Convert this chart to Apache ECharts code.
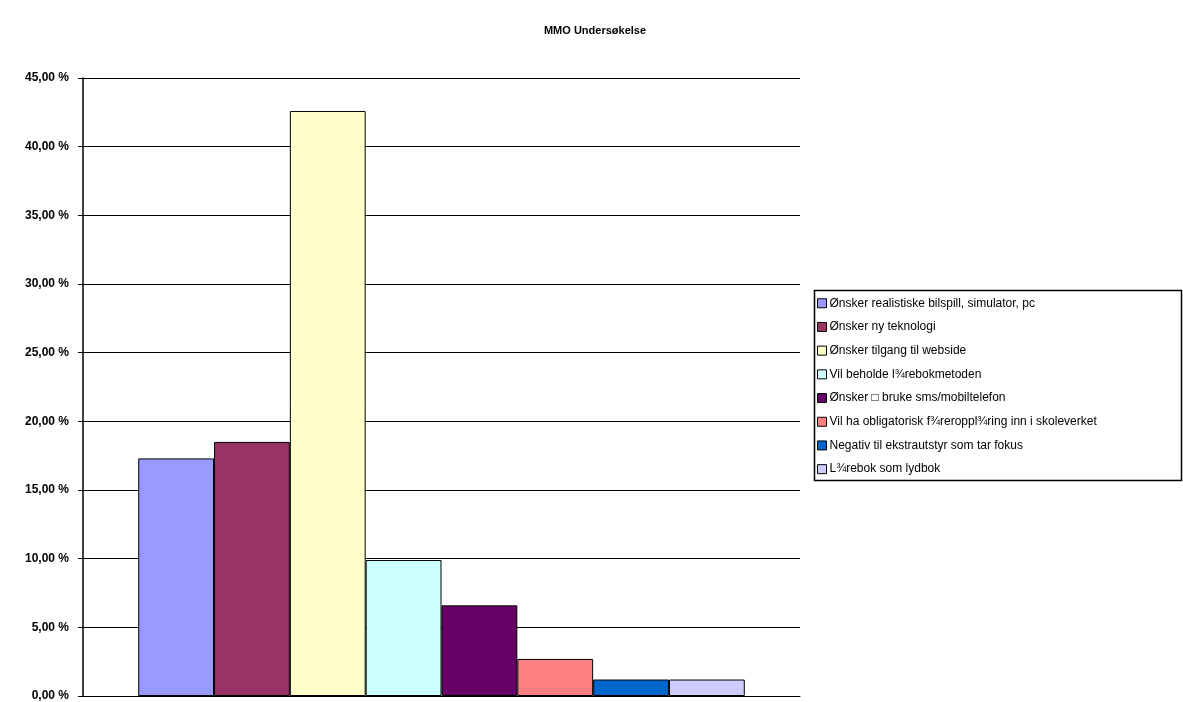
<!DOCTYPE html>
<html>
<head>
<meta charset="utf-8">
<script src="https://cdn.jsdelivr.net/npm/echarts@6/dist/echarts.min.js"></script>
<style>html,body{margin:0;padding:0;background:#fff}#c{width:1183px;height:702px}</style>
</head>
<body>
<div id="c"></div>
<script>
var titleText = 'MMO Undersøkelse';
var categories = [''];
var seriesNames = [
  'Ønsker realistiske bilspill, simulator, pc',
  'Ønsker ny teknologi',
  'Ønsker tilgang til webside',
  'Vil beholde l¾rebokmetoden',
  'Ønsker \u25a1 bruke sms/mobiltelefon',
  'Vil ha obligatorisk f¾reroppl¾ring inn i skoleverket',
  'Negativ til ekstrautstyr som tar fokus',
  'L¾rebok som lydbok'
];
var seriesValues = [17.3, 18.5, 42.6, 9.9, 6.6, 2.7, 1.2, 1.2];
var seriesColors = ['#9999FF', '#993366', '#FFFFCC', '#CCFFFF', '#660066', '#FF8080', '#0066CC', '#CCCCFF'];
var yTicks = [0, 5, 10, 15, 20, 25, 30, 35, 40, 45];

var chart = echarts.init(document.getElementById('c'), null, {renderer: 'canvas'});
var series = seriesNames.map(function (n, i) {
  return {
    name: n,
    type: 'bar',
    data: [seriesValues[i]],
    barGap: '0%',
    barCategoryGap: '15.4%',
    itemStyle: {color: seriesColors[i], borderColor: '#000', borderWidth: 1},
    emphasis: {disabled: true}
  };
});
chart.setOption({
  animation: false,
  backgroundColor: '#fff',
  title: {
    text: titleText, left: 590, top: 20, textAlign: 'center',
    textStyle: {fontFamily: 'Liberation Sans, Arial', fontSize: 11, fontWeight: 'bold', color: '#000'}
  },
  grid: {left: 83, right: 383, top: 78, bottom: 3, containLabel: false},
  xAxis: {
    type: 'category', data: categories,
    axisLine: {show: true, lineStyle: {color: '#000', width: 1}},
    axisTick: {show: false}, axisLabel: {show: false}
  },
  yAxis: {
    type: 'value', min: yTicks[0], max: yTicks[yTicks.length - 1], interval: 5,
    axisLine: {show: true, lineStyle: {color: '#000', width: 1.5}},
    axisTick: {show: true, length: 5, lineStyle: {color: '#000'}},
    splitLine: {show: true, lineStyle: {color: '#000', width: 1.2}},
    axisLabel: {
      color: '#000', fontFamily: 'Liberation Sans, Arial', fontSize: 12, fontWeight: 'bold', margin: 14,
      formatter: function (v) { return v.toFixed(2).replace('.', ',') + ' %'; }
    }
  },
  legend: {
    orient: 'vertical', left: 812, top: 292,
    itemWidth: 9, itemHeight: 9, itemGap: 11.2,
    icon: 'rect',
    itemStyle: {borderColor: '#000', borderWidth: 1},
    textStyle: {fontFamily: 'Liberation Sans, Arial', fontSize: 12, color: '#000', lineHeight: 12.5, padding: [0, 0, 0, -2]},
    selectedMode: false,
    data: seriesNames
  },
  graphic: [{
    type: 'rect', left: 812, top: 288,
    shape: {width: 367, height: 190},
    style: {fill: 'none', stroke: '#000', lineWidth: 1.5},
    z: 100
  }],
  series: series
});
</script>
</body>
</html>
